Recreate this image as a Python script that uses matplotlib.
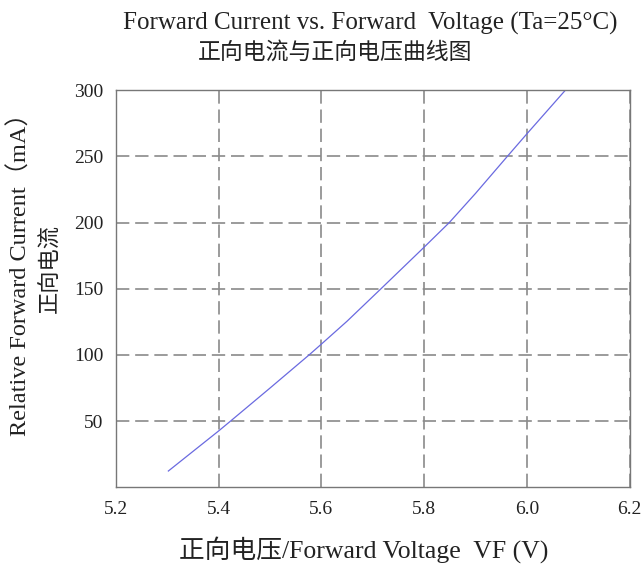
import matplotlib
matplotlib.use("Agg")
import matplotlib.pyplot as plt

# valores
vf = [5.302, 5.40, 5.423, 5.50, 5.576, 5.60, 5.65, 5.716, 5.80, 5.849, 5.90, 5.962, 6.00, 6.075]
i_f = [12.3, 42.6, 50.0, 75.0, 100.0, 108.2, 125.5, 150.0, 181.4, 200.0, 222.0, 250.0, 267.0, 300.0]

xticks = [5.2, 5.4, 5.6, 5.8, 6.0, 6.2]
xtick_labels = ["5.2", "5.4", "5.6", "5.8", "6.0", "6.2"]
yticks = [50, 100, 150, 200, 250, 300]

plt.rcParams['font.family'] = ['Liberation Serif', 'Noto Sans CJK SC']
txt = '#222222'

fig = plt.figure(figsize=(6.44, 5.68), dpi=100)
ax = fig.add_axes([0.1801, 0.1421, 0.7974, 0.6990])

ax.plot(vf, i_f, color='#6a6ae0', lw=0.9)

ax.set_xlim(5.2, 6.2)
ax.set_ylim(0, 300)
ax.set_xticks(xticks)
ax.set_xticklabels(xtick_labels)
ax.set_yticks(yticks)
ax.tick_params(length=0, labelsize=14, labelcolor=txt)
ax.tick_params(axis='x', pad=10)
ax.tick_params(axis='y', pad=9)

ax.grid(True, color='#8a8a8a', lw=1.2, linestyle=(0, (8, 3.5)))
for s in ax.spines.values():
  s.set_color('#777777')
  s.set_linewidth(1.0)

fig.text(0.575, 0.958, 'Forward Current vs. Forward  Voltage (Ta=25°C)',
         ha='center', va='center', fontsize=18, color=txt)
fig.text(0.521, 0.908, '正向电流与正向电压曲线图',
         ha='center', va='center', fontsize=16.5, color=txt,
         family=['Noto Sans CJK SC'])

fig.text(0.031, 0.527, 'Relative Forward Current（mA）', rotation=90,
         ha='center', va='center', fontsize=17.5, color=txt)
fig.text(0.078, 0.527, '正向电流', rotation=90,
         ha='center', va='center', fontsize=16, color=txt,
         family=['Noto Sans CJK SC'])

fig.text(0.565, 0.033, '正向电压/Forward Voltage  VF (V)',
         ha='center', va='center', fontsize=18.5, color=txt)

fig.savefig('out.png', dpi=100)
